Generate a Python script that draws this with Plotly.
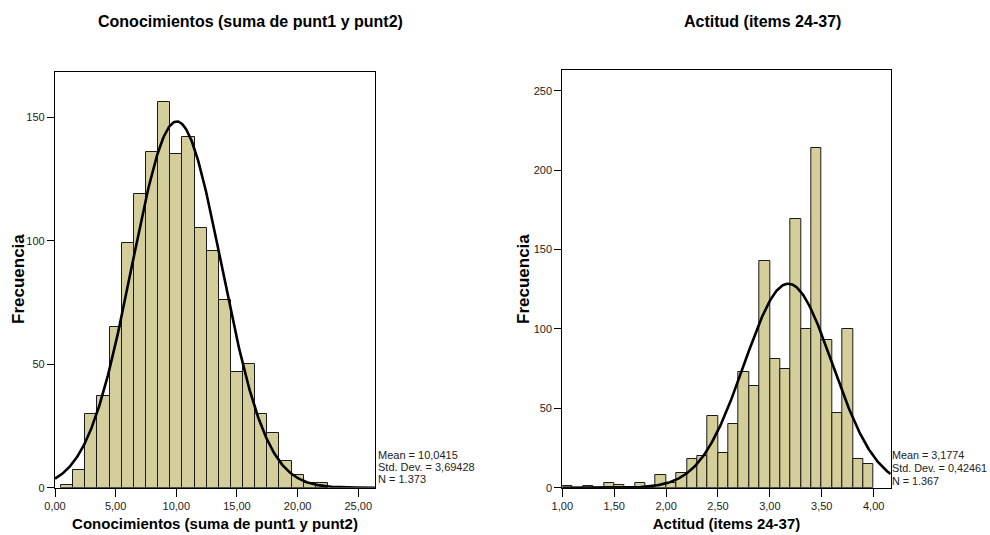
import numpy as np
import plotly.graph_objects as go

W, H = 990, 535
FONT = "Liberation Sans, Arial, sans-serif"
BAR_COLOR = "#D3CE9A"

# ---------------- Left histogram: Conocimientos ----------------
con_bin_centres = [1, 2, 3, 4, 5, 6, 7, 8, 9, 10, 11, 12, 13, 14, 15, 16, 17, 18, 19, 20, 21, 22]
con_counts = [1, 7, 30, 37, 65, 99, 119, 136, 156, 135, 142, 105, 96, 76, 47, 50, 30, 22, 11, 5, 2, 2]
con_bin_width = 1.0
con_mean, con_sd, con_n = 10.0415, 3.69428, 1373
con_xtick_vals = [0, 5, 10, 15, 20, 25]
con_xtick_text = ["0,00", "5,00", "10,00", "15,00", "20,00", "25,00"]
con_ytick_vals = [0, 50, 100, 150]
con_title = "Conocimientos (suma de punt1 y punt2)"
con_stats = ["Mean = 10,0415", "Std. Dev. = 3,69428", "N = 1.373"]

# ---------------- Right histogram: Actitud ----------------
act_bin_centres = [1.05, 1.15, 1.25, 1.35, 1.45, 1.55, 1.65, 1.75, 1.85, 1.95,
                   2.05, 2.15, 2.25, 2.35, 2.45, 2.55, 2.65, 2.75, 2.85, 2.95,
                   3.05, 3.15, 3.25, 3.35, 3.45, 3.55, 3.65, 3.75, 3.85, 3.95]
act_counts = [1, 0, 1, 0, 3, 2, 0, 3, 0, 8,
              3, 9, 18, 20, 45, 22, 40, 73, 64, 143,
              81, 75, 169, 100, 214, 93, 47, 100, 18, 15]
act_bin_width = 0.1
act_mean, act_sd, act_n = 3.1774, 0.42461, 1367
act_xtick_vals = [1.0, 1.5, 2.0, 2.5, 3.0, 3.5, 4.0]
act_xtick_text = ["1,00", "1,50", "2,00", "2,50", "3,00", "3,50", "4,00"]
act_ytick_vals = [0, 50, 100, 150, 200, 250]
act_title = "Actitud (items 24-37)"
act_stats = ["Mean = 3,1774", "Std. Dev. = 0,42461", "N = 1.367"]

y_title = "Frecuencia"

con_xrange = [0, 26.38]
con_yrange = [0, 168.3]
act_xrange = [1.0, 4.164]
act_yrange = [0, 263]


def normal_curve(mean, sd, n, width, lo, hi):
    xs = np.linspace(lo, hi, 400)
    ys = n * width / (sd * np.sqrt(2 * np.pi)) * np.exp(-0.5 * ((xs - mean) / sd) ** 2)
    return xs, ys


fig = go.Figure()

fig.add_trace(go.Bar(x=con_bin_centres, y=con_counts, width=con_bin_width,
                     marker=dict(color=BAR_COLOR, line=dict(color="#1a1a1a", width=1)),
                     xaxis="x", yaxis="y", showlegend=False, hoverinfo="x+y"))
cx, cy = normal_curve(con_mean, con_sd, con_n, con_bin_width, con_xrange[0], con_xrange[1])
fig.add_trace(go.Scatter(x=cx, y=cy, mode="lines", line=dict(color="black", width=2.6),
                         xaxis="x", yaxis="y", showlegend=False, hoverinfo="skip"))

fig.add_trace(go.Bar(x=act_bin_centres, y=act_counts, width=act_bin_width,
                     marker=dict(color=BAR_COLOR, line=dict(color="#1a1a1a", width=1)),
                     xaxis="x2", yaxis="y2", showlegend=False, hoverinfo="x+y"))
ax, ay = normal_curve(act_mean, act_sd, act_n, act_bin_width, act_xrange[0], act_xrange[1])
fig.add_trace(go.Scatter(x=ax, y=ay, mode="lines", line=dict(color="black", width=2.6),
                         xaxis="x2", yaxis="y2", showlegend=False, hoverinfo="skip"))

tick_font = dict(family=FONT, size=11, color="#222222")
xtitle_font = dict(family=FONT, size=15, color="black")

common_axis = dict(showline=True, mirror=True, linecolor="black", linewidth=1.2,
                   ticks="outside", tickcolor="black", tickwidth=1.2, automargin=False,
                   showgrid=False, zeroline=False, tickfont=tick_font)

y_bottom = 1 - 487.7 / H

fig.update_layout(
    width=W, height=H,
    margin=dict(l=0, r=0, t=0, b=0, autoexpand=False),
    paper_bgcolor="white", plot_bgcolor="white",
    bargap=0,
    font=dict(family=FONT),
    xaxis=dict(domain=[55 / W, 375 / W], range=con_xrange, anchor="y",
               tickvals=con_xtick_vals, ticktext=con_xtick_text, ticklen=8,
               title=dict(text="<b>" + con_title + "</b>", font=xtitle_font, standoff=7),
               **common_axis),
    yaxis=dict(domain=[y_bottom, 1 - 72 / H], range=con_yrange, anchor="x",
               tickvals=con_ytick_vals, ticklen=7,
               **common_axis),
    xaxis2=dict(domain=[562.3 / W, 890.7 / W], range=act_xrange, anchor="y2",
                tickvals=act_xtick_vals, ticktext=act_xtick_text, ticklen=8,
                title=dict(text="<b>" + act_title + "</b>", font=xtitle_font, standoff=7),
                **common_axis),
    yaxis2=dict(domain=[y_bottom, 1 - 70 / H], range=act_yrange, anchor="x2",
                tickvals=act_ytick_vals, ticklen=7,
                **common_axis),
)

annotations = [
    dict(text="<b>" + con_title + "</b>", x=250 / W, y=1 - 21 / H, xref="paper", yref="paper",
         xanchor="center", yanchor="middle", showarrow=False,
         font=dict(family=FONT, size=16, color="black")),
    dict(text="<b>" + act_title + "</b>", x=762 / W, y=1 - 21 / H, xref="paper", yref="paper",
         xanchor="center", yanchor="middle", showarrow=False,
         font=dict(family=FONT, size=16, color="black")),
    dict(text="<b>" + y_title + "</b>", x=18 / W, y=1 - 279 / H, xref="paper", yref="paper",
         xanchor="center", yanchor="middle", showarrow=False, textangle=-90,
         font=dict(family=FONT, size=17, color="black")),
    dict(text="<b>" + y_title + "</b>", x=523 / W, y=1 - 279 / H, xref="paper", yref="paper",
         xanchor="center", yanchor="middle", showarrow=False, textangle=-90,
         font=dict(family=FONT, size=17, color="black")),
]
for i, line in enumerate(con_stats):
    annotations.append(dict(text=line, x=376 / W, y=1 - (455 + 12 * i) / H, xref="paper", yref="paper",
                            xanchor="left", yanchor="middle", showarrow=False,
                            font=dict(family=FONT, size=11, color="#222222")))
for i, line in enumerate(act_stats):
    annotations.append(dict(text=line, x=890 / W, y=1 - (455 + 13 * i) / H, xref="paper", yref="paper",
                            xanchor="left", yanchor="middle", showarrow=False,
                            font=dict(family=FONT, size=10.8, color="#222222")))
fig.update_layout(annotations=annotations)

fig.write_html("out.html", config={"displayModeBar": False},
               post_script="document.body.style.margin='0px';document.body.style.overflow='hidden';")
